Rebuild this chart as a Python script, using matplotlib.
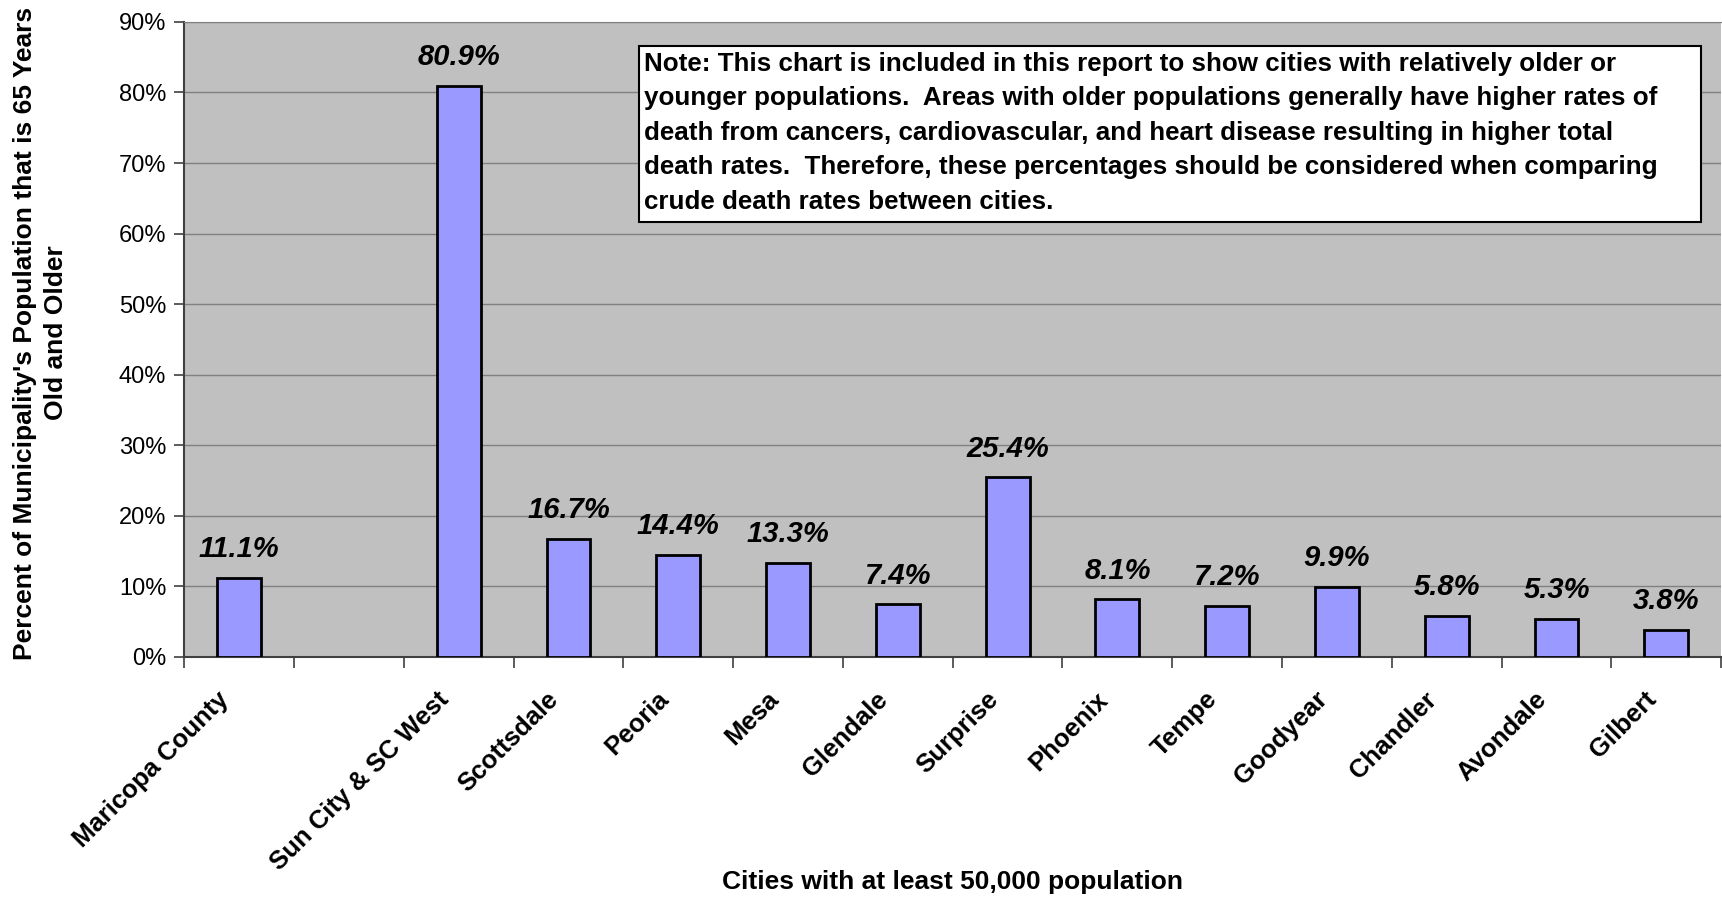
import numpy as np
import matplotlib
matplotlib.use("Agg")
import matplotlib.pyplot as plt
from matplotlib.ticker import FuncFormatter, FixedLocator
from matplotlib.patches import Rectangle

plt.rcParams['font.family'] = ['Liberation Sans', 'DejaVu Sans']

# data
cities = ['Maricopa County', '', 'Sun City & SC West', 'Scottsdale', 'Peoria', 'Mesa',
          'Glendale', 'Surprise', 'Phoenix', 'Tempe', 'Goodyear', 'Chandler',
          'Avondale', 'Gilbert']
pct_65_plus = [11.1, np.nan, 80.9, 16.7, 14.4, 13.3, 7.4, 25.4, 8.1, 7.2, 9.9, 5.8, 5.3, 3.8]
y_ticks = list(range(0, 91, 10))

note = ("Note: This chart is included in this report to show cities with relatively older or\n"
        "younger populations.  Areas with older populations generally have higher rates of\n"
        "death from cancers, cardiovascular, and heart disease resulting in higher total\n"
        "death rates.  Therefore, these percentages should be considered when comparing\n"
        "crude death rates between cities.")

fig = plt.figure(figsize=(17.22, 8.97), dpi=100)
ax = fig.add_axes([0.107, 0.268, 0.8925, 0.7075])
ax.set_facecolor('#C0C0C0')

x = np.arange(len(cities))
vals = np.array(pct_65_plus, dtype=float)
has = ~np.isnan(vals)
ax.bar(x[has], vals[has], width=0.4, color='#9999FF', edgecolor='black',
       linewidth=2, zorder=3)

# value labels
for xi, v in zip(x[has], vals[has]):
    ax.annotate(f'{v:.1f}%', (xi, v), xytext=(0, 15), textcoords='offset points',
                ha='center', va='baseline', fontsize=21, fontweight='bold',
                fontstyle='italic', zorder=4)

ax.set_xlim(-0.5, len(cities) - 0.5)
ax.set_ylim(0, 90)
ax.yaxis.set_major_locator(FixedLocator(y_ticks))
ax.yaxis.set_major_formatter(FuncFormatter(lambda v, p: f'{v:.0f}%'))
ax.grid(axis='y', color='#808080', linewidth=1, zorder=1)

# labels sit a little left of the category centre (as in the Excel original)
ax.set_xticks(x - 0.2)
ax.set_xticklabels(cities, rotation=45, ha='right', rotation_mode='anchor',
                   fontsize=18.5, fontweight='bold')
ax.set_xticks(np.arange(len(cities) + 1) - 0.5, minor=True)
ax.tick_params(axis='x', which='major', length=0, pad=22)
ax.tick_params(axis='x', which='minor', length=8, width=1.2, color='#404040')
ax.tick_params(axis='y', length=7, width=1.2, color='#404040', labelsize=17, pad=6)

ax.spines['right'].set_visible(False)
ax.spines['top'].set_color('#808080')
ax.spines['left'].set_color('#404040')
ax.spines['bottom'].set_color('#404040')
ax.spines['left'].set_linewidth(1.5)
ax.spines['bottom'].set_linewidth(1.5)

ax.set_xlabel('Cities with at least 50,000 population', fontsize=19,
              fontweight='bold', va='center')
ax.xaxis.set_label_coords(0.5, -0.355)
ax.set_ylabel("Percent of Municipality's Population that is 65 Years\nOld and Older",
              fontsize=19, fontweight='bold', va='center', linespacing=1.4)
ax.yaxis.set_label_coords(-0.0935, 0.51)

# note box
ax.add_patch(Rectangle((0.2956, 0.685), 0.6914, 0.277, transform=ax.transAxes,
                       facecolor='white', edgecolor='black', linewidth=1.5, zorder=5))
ax.text(0.2992, 0.8255, note, transform=ax.transAxes, ha='left', va='center',
        fontsize=18.7, fontweight='bold', linespacing=1.55, zorder=6)

fig.savefig('out.png', dpi=100)
